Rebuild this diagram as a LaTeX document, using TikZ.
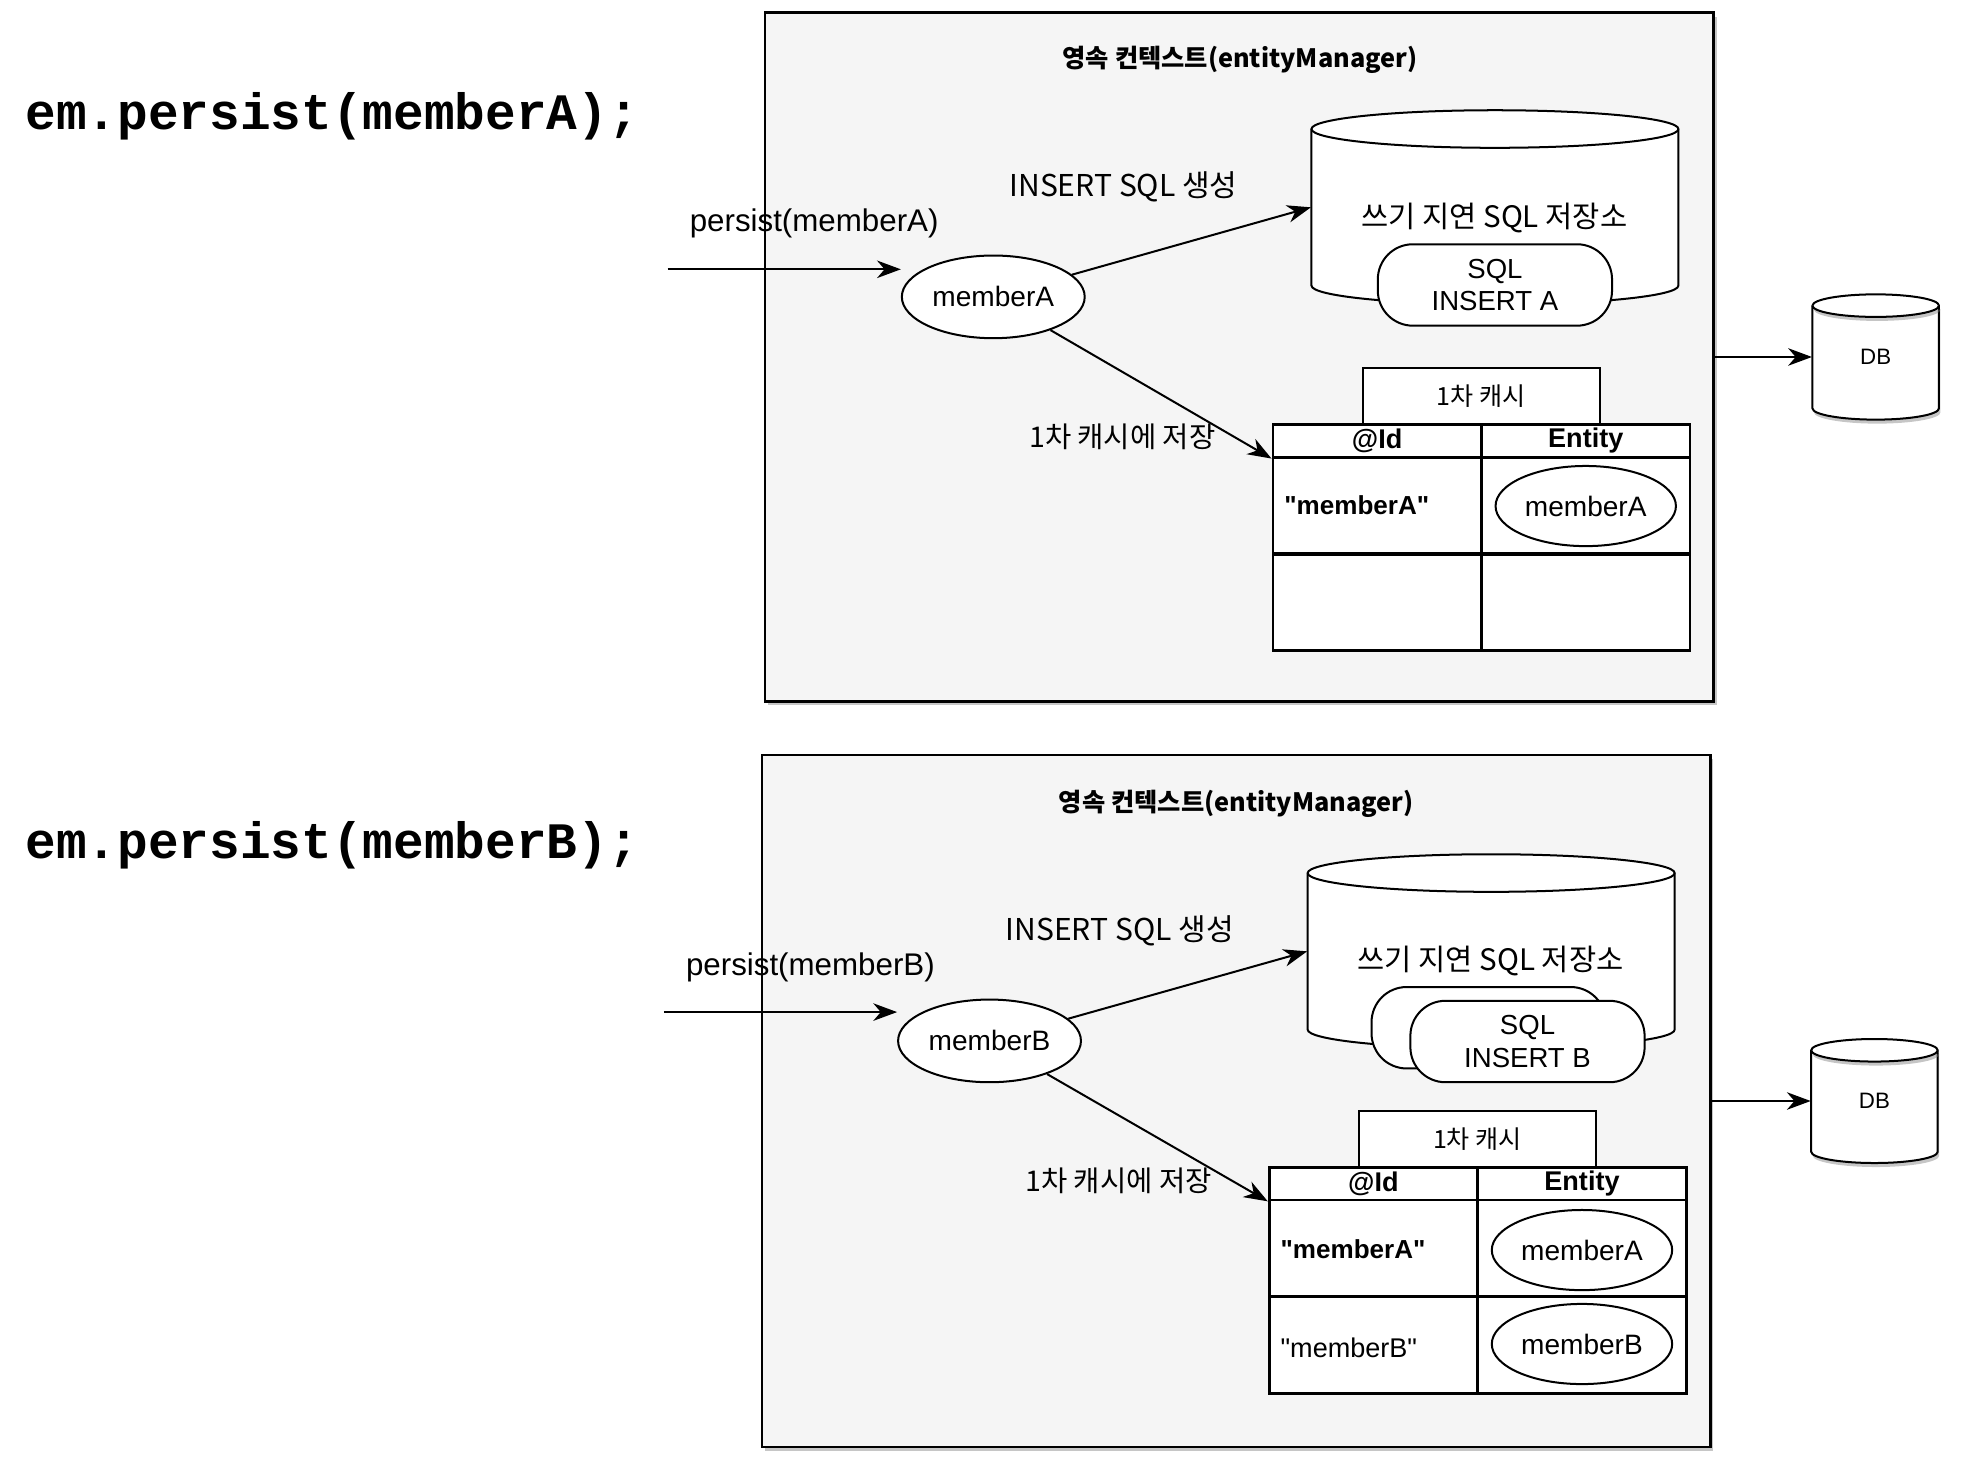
\documentclass[tikz,border=0pt]{standalone}
\usepackage{fontspec}
\setmainfont{Liberation Sans}[Ligatures=TeXOff]
\setmonofont{Liberation Mono}
\newfontfamily\kr{Noto Sans CJK KR}
\usetikzlibrary{arrows.meta, shapes.geometric, shadows}

\tikzset{
    ctxbox/.style={draw, line width=0.9pt, fill=black!4, minimum width=378.5pt, minimum height=275pt, inner sep=0pt,
        drop shadow={shadow xshift=1.2pt, shadow yshift=-1.6pt, opacity=0.45}},
    code/.style={font=\ttfamily\bfseries\fontsize{20.4}{24}\selectfont, inner sep=0pt, anchor=west},
    ctxtitle/.style={font=\kr\bfseries\fontsize{10.1}{12}\selectfont, inner sep=0pt},
    krtxt/.style={font=\kr\fontsize{11.8}{14}\selectfont, inner sep=0pt},
    lbl/.style={font=\fontsize{12.5}{14}\selectfont, inner sep=0pt},
    entity/.style={ellipse, draw, line width=0.8pt, fill=white, inner sep=0pt, font=\fontsize{11.2}{13}\selectfont},
    cylline/.style={draw, line width=0.8pt, fill=white},
    dbline/.style={cylline, drop shadow={shadow xshift=0.6pt, shadow yshift=-1.6pt, opacity=0.45}},
    sqlbox/.style={draw, line width=0.8pt, fill=white, rounded corners=14pt, minimum width=93.5pt, minimum height=32.5pt,
        inner sep=0pt, align=center, font=\fontsize{11}{13}\selectfont},
    tab/.style={draw, line width=0.8pt, fill=white, minimum width=94.5pt, minimum height=22.5pt, inner sep=0pt,
        font=\kr\fontsize{10}{12}\selectfont},
    hdr/.style={draw, line width=1.1pt, fill=white, minimum width=83.25pt, minimum height=13pt, inner sep=0pt,
        font=\bfseries\fontsize{10.8}{12}\selectfont},
    cell/.style={draw, line width=1.1pt, fill=white, minimum width=83.25pt, minimum height=38.5pt, inner sep=0pt},
    key/.style={anchor=west, inner sep=0pt, font=\fontsize{10.8}{12}\selectfont},
    dbtxt/.style={inner sep=0pt, font=\fontsize{8.9}{10}\selectfont},
    arr/.style={-{Stealth[length=9.5pt, width=7pt, inset=3pt]}, line width=0.8pt},
}

% cylinder: centre, half width, half height, cap radius (px), style
\newcommand{\drawcyl}[5]{%
    \begin{scope}[shift={(#1)}]
        \draw[#5] (-#2,-#3+#4) -- (-#2,#3-#4)
            arc[start angle=180, end angle=360, x radius=#2*0.5pt, y radius=#4*0.5pt] -- (#2,-#3+#4)
            arc[start angle=0, end angle=180, x radius=#2*0.5pt, y radius=#4*0.5pt] -- cycle;
        \draw[#5, drop shadow={opacity=0}] (-#2,-#3+#4) arc[start angle=180, end angle=360, x radius=#2*0.5pt, y radius=#4*0.5pt];
    \end{scope}}

\begin{document}
\begin{tikzpicture}[x=0.5pt, y=-0.5pt]
    \useasboundingbox (0,0) rectangle (1568,1174);

    % em.persist(memberA)
    \node[code] (codeA) at (20,93) {em.persist(memberA);};
    \node[ctxbox] (ctxA) at (989.5,285) {};
    \node[ctxtitle] (titleA) at (990,48) {영속 컨텍스트(entityManager)};

    \drawcyl{1193.5,165.5}{146.5}{77.5}{15}{cylline}
    \node[inner sep=0pt, minimum width=146.5pt, minimum height=77.5pt] (storeA) at (1193.5,165.5) {};
    \node[krtxt] at (1193,174) {쓰기 지연 SQL 저장소};
    \node[sqlbox] (sqlA) at (1193.5,227.5) {SQL\\INSERT A};

    \node[krtxt, font=\kr\fontsize{12}{14}\selectfont] (insA) at (897,149) {INSERT SQL 생성};
    \node[lbl] (perA) at (650,178) {persist(memberA)};
    \coordinate (inA) at (533,215);
    \node[entity, minimum width=73pt, minimum height=33pt] (memA) at (793,237) {memberA};

    \node[tab] (tabA) at (1182.5,316.5) {1차 캐시};
    \node[hdr] (idA) at (1099.5,352) {@Id};
    \node[hdr] (entA) at (1266,352) {Entity};
    \node[cell] (keyA1) at (1099.5,403.5) {};
    \node[cell] (valA1) at (1266,403.5) {};
    \node[cell] (keyA2) at (1099.5,481) {};
    \node[cell] (valA2) at (1266,481) {};
    \node[key, font=\bfseries\fontsize{10.4}{12}\selectfont] at (1025,403) {"memberA"};
    \node[entity, minimum width=72pt, minimum height=32pt] (eA1) at (1266,404) {memberA};
    \node[krtxt, font=\kr\fontsize{11.4}{13}\selectfont] (saveA) at (896,349) {1차 캐시에 저장};

    \drawcyl{1497.5,285}{50.5}{50}{9}{dbline}
    \node[dbtxt, minimum width=50.5pt, minimum height=50pt] (dbA) at (1497.5,285) {DB};

    \draw[arr] (inA) -- (inA -| memA.west);
    \draw[arr] (memA) -- (storeA.west);
    \draw[arr] (memA) -- (idA.south west);
    \draw[arr] (ctxA.east) -- (dbA.west);

    % em.persist(memberB)
    \begin{scope}[shift={(-3,594)}]
        \node[code] (codeB) at (23,81) {em.persist(memberB);};
        \node[ctxbox, minimum height=276pt] (ctxB) at (990,285) {};
        \node[ctxtitle] (titleB) at (990,48) {영속 컨텍스트(entityManager)};

        \drawcyl{1193.5,165.5}{146.5}{77.5}{15}{cylline}
        \node[inner sep=0pt, minimum width=146.5pt, minimum height=77.5pt] (storeB) at (1193.5,165.5) {};
        \node[krtxt] at (1193,173) {쓰기 지연 SQL 저장소};
        \node[sqlbox] (sqlB0) at (1191.5,226.5) {\phantom{SQL}};
        \node[sqlbox] (sqlB) at (1222.5,237.5) {SQL\\INSERT B};

        \node[krtxt, font=\kr\fontsize{12}{14}\selectfont] (insB) at (897,149) {INSERT SQL 생성};
        \node[lbl] (perB) at (650,178) {persist(memberB)};
        \coordinate (inB) at (533,214);
        \node[entity, minimum width=73pt, minimum height=33pt] (memB) at (793,237) {memberB};

        \node[tab] (tabB) at (1182.5,315.5) {1차 캐시};
        \node[hdr] (idB) at (1099.5,351) {@Id};
        \node[hdr] (entB) at (1266,351) {Entity};
        \node[cell] (keyB1) at (1099.5,402.5) {};
        \node[cell] (valB1) at (1266,402.5) {};
        \node[cell] (keyB2) at (1099.5,480) {};
        \node[cell] (valB2) at (1266,480) {};
        \node[key, font=\bfseries\fontsize{10.4}{12}\selectfont] at (1025,403) {"memberA"};
        \node[key] at (1025,482) {"memberB"};
        \node[entity, minimum width=72pt, minimum height=32pt] (eB1) at (1266,404) {memberA};
        \node[entity, minimum width=72pt, minimum height=32pt] (eB2) at (1266,479) {memberB};
        \node[krtxt, font=\kr\fontsize{11.4}{13}\selectfont] (saveB) at (896,349) {1차 캐시에 저장};

        \drawcyl{1499.5,285}{50.5}{49.5}{9}{dbline}
        \node[dbtxt, minimum width=50.5pt, minimum height=49.5pt] (dbB) at (1499.5,285) {DB};

        \draw[arr] (inB) -- (inB -| memB.west);
        \draw[arr] (memB) -- (storeB.west);
        \draw[arr] (memB) -- (idB.south west);
        \draw[arr] (ctxB.east) -- (dbB.west);
    \end{scope}
\end{tikzpicture}
\end{document}
